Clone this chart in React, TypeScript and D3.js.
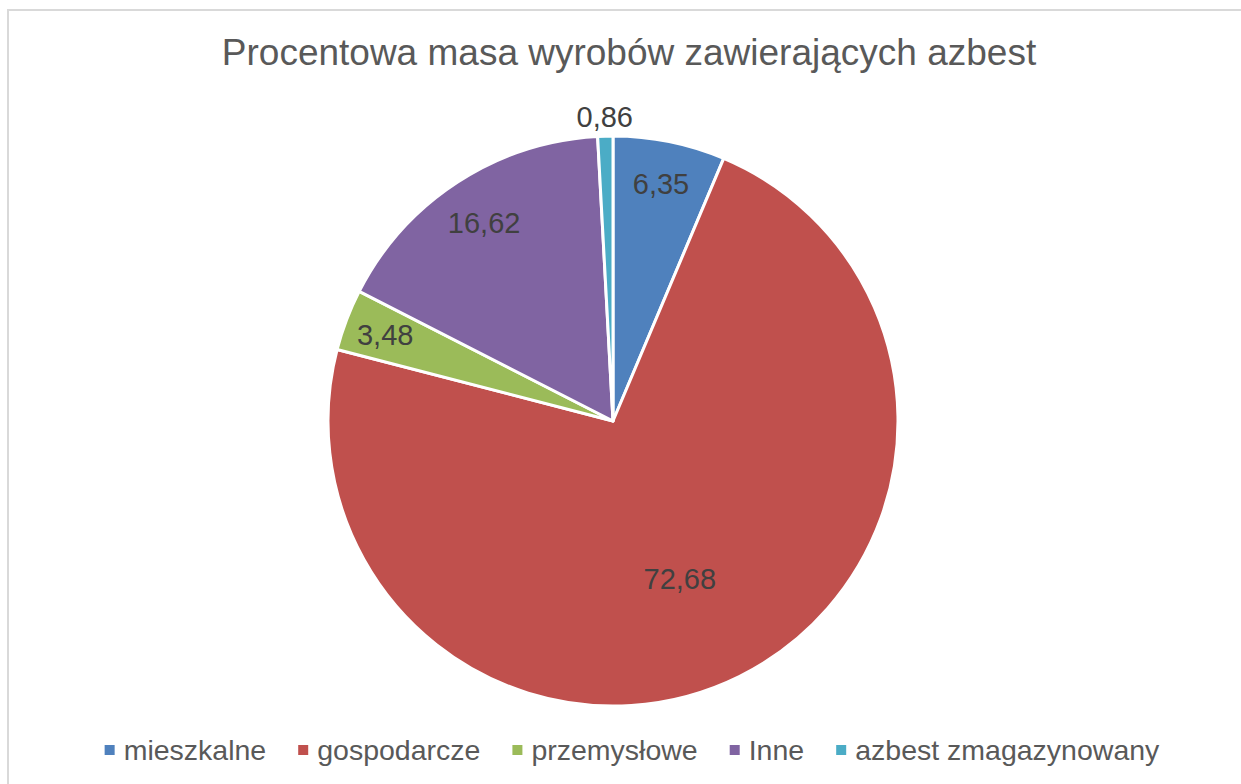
import React, { useRef, useEffect } from "react";
import * as d3 from "d3";

const title = "Procentowa masa wyrobów zawierających azbest";
const categories = ["mieszkalne", "gospodarcze", "przemysłowe", "Inne", "azbest zmagazynowany"];
const values = [6.35, 72.68, 3.48, 16.62, 0.86];
const labels = ["6,35", "72,68", "3,48", "16,62", "0,86"];
const colors = ["#4F81BD", "#C0504D", "#9BBB59", "#8064A2", "#4BACC6"];
// how far out each data label sits (fraction of radius) and a small angle nudge (deg), best-fit style
const labelPos = [0.85, 0.6, 0.855, 0.83, 1.07];
const labelNudge = [0, 3.3, 0, 0, 0];

const W = 1241;
const H = 784;

const App = () => {
  const svgRef = useRef<SVGSVGElement>(null);

  useEffect(() => {
    const svg = d3.select(svgRef.current);
    svg.selectAll("*").remove();
    const font = "'Liberation Sans', Arial, sans-serif";

    // chart frame
    svg
      .append("rect")
      .attr("x", 8)
      .attr("y", 10)
      .attr("width", 1260)
      .attr("height", 800)
      .attr("fill", "#fff")
      .attr("stroke", "#d9d9d9")
      .attr("stroke-width", 2);

    svg
      .append("text")
      .attr("x", 629)
      .attr("y", 65)
      .attr("text-anchor", "middle")
      .style("font-family", font)
      .style("font-size", "37px")
      .attr("fill", "#595959")
      .text(title);

    const cx = 613;
    const cy = 421;
    const r = 285;

    const pie = d3.pie<number>().sort(null).value(d => d);
    const arcs = pie(values);
    const arc = d3.arc<d3.PieArcDatum<number>>().innerRadius(0).outerRadius(r);

    const g = svg.append("g").attr("transform", `translate(${cx},${cy})`);
    g.selectAll("path")
      .data(arcs)
      .join("path")
      .attr("d", arc)
      .attr("fill", (d, i) => colors[i])
      .attr("stroke", "#fff")
      .attr("stroke-width", 3)
      .attr("stroke-linejoin", "round");

    const mid = (d, i) => (d.startAngle + d.endAngle) / 2 + (labelNudge[i] * Math.PI) / 180;
    g.selectAll("text.lbl")
      .data(arcs)
      .join("text")
      .attr("class", "lbl")
      .attr("x", (d, i) => Math.sin(mid(d, i)) * r * labelPos[i])
      .attr("y", (d, i) => -Math.cos(mid(d, i)) * r * labelPos[i])
      .attr("dy", "0.36em")
      .attr("text-anchor", "middle")
      .style("font-family", font)
      .style("font-size", "29px")
      .attr("fill", "#404040")
      .text((d, i) => labels[i]);

    // legend
    const legend = svg.append("g");
    const items = legend
      .selectAll("g")
      .data(categories)
      .join("g");
    items
      .append("rect")
      .attr("width", 10)
      .attr("height", 10)
      .attr("y", 745)
      .attr("fill", (d, i) => colors[i]);
    const texts = items
      .append("text")
      .attr("y", 760)
      .style("font-family", font)
      .style("font-size", "28.5px")
      .attr("fill", "#595959")
      .text(d => d);
    const widths: number[] = [];
    texts.each(function () {
      widths.push((this as SVGTextElement).getComputedTextLength());
    });
    const off = 19;
    const gap = 32;
    const total = d3.sum(widths) + categories.length * off + (categories.length - 1) * gap;
    let x = 632 - total / 2;
    items.each(function (d, i) {
      const it = d3.select(this);
      it.select("rect").attr("x", x);
      it.select("text").attr("x", x + off);
      x += off + widths[i] + gap;
    });
  }, []);

  return (
    <svg
      ref={svgRef}
      width={W}
      height={H}
      style={{ position: "absolute", left: 0, top: 0, display: "block" }}
    />
  );
};

export default App;
